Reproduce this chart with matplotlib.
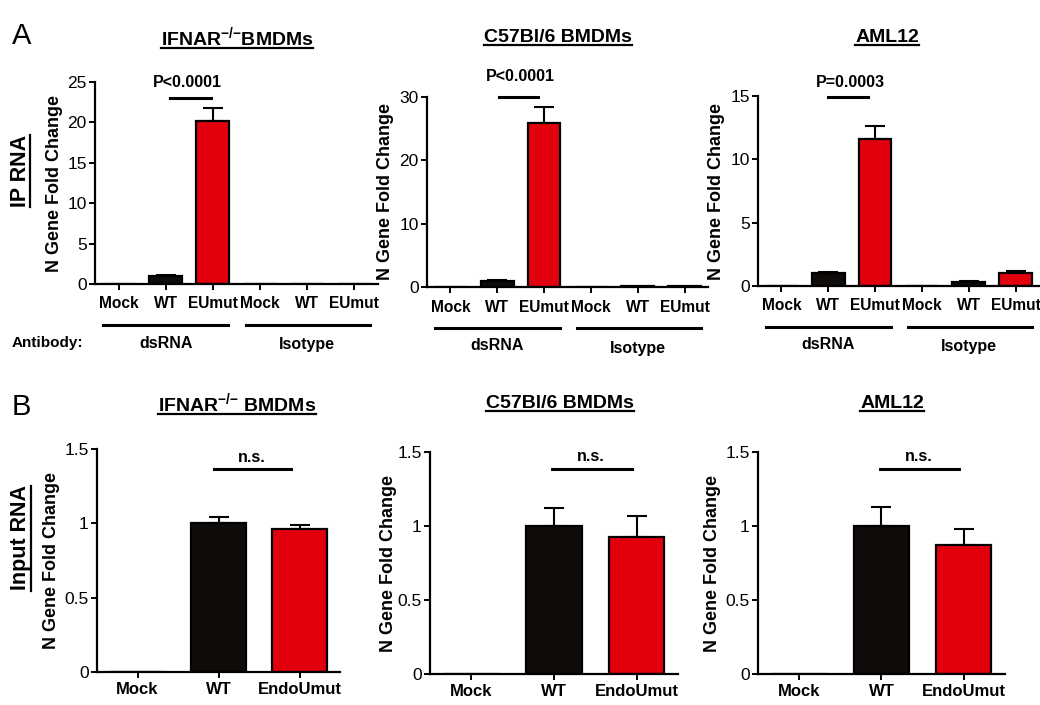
import matplotlib
matplotlib.use('Agg')
import matplotlib.pyplot as plt
from matplotlib.lines import Line2D
from matplotlib.transforms import ScaledTranslation

W, H = 1040, 705
DPI = 100
SANS = ['Liberation Sans', 'DejaVu Sans']
plt.rcParams['font.family'] = SANS
plt.rcParams['mathtext.fontset'] = 'custom'
plt.rcParams['mathtext.rm'] = 'Liberation Sans'
plt.rcParams['mathtext.bf'] = 'Liberation Sans:bold'
plt.rcParams['mathtext.it'] = 'Liberation Sans:bold'

# ---------------- data ----------------
cell_titles = [r"IFNAR$^{\mathbf{{-}/{-}}}$BMDMs", "C57Bl/6 BMDMs", "AML12"]
cell_titles_b = [r"IFNAR$^{\mathbf{{-}/{-}}}$ BMDMs", "C57Bl/6 BMDMs", "AML12"]

ip_categories = ["Mock", "WT", "EUmut", "Mock", "WT", "EUmut"]
ip_groups = ["dsRNA", "Isotype"]
ip_is_mut = [False, False, True, False, False, True]
ip_ifnar = [0, 1.0, 20.2, 0, 0, 0]
ip_ifnar_err = [0, 0.06, 1.6, 0, 0, 0]
ip_c57 = [0, 1.0, 25.95, 0, 0.12, 0.2]
ip_c57_err = [0, 0.08, 2.45, 0, 0, 0]
ip_aml = [0, 1.0, 11.6, 0, 0.33, 1.02]
ip_aml_err = [0, 0.12, 1.05, 0, 0.04, 0.15]
ip_pvalues = ["P<0.0001", "P<0.0001", "P=0.0003"]

input_categories = ["Mock", "WT", "EndoUmut"]
input_is_mut = [False, False, True]
in_ifnar = [0, 1.0, 0.96]
in_ifnar_err = [0, 0.045, 0.03]
in_c57 = [0, 1.0, 0.925]
in_c57_err = [0, 0.12, 0.14]
in_aml = [0, 1.0, 0.87]
in_aml_err = [0, 0.13, 0.11]
input_sig = ["n.s.", "n.s.", "n.s."]

ip_values = [ip_ifnar, ip_c57, ip_aml]
ip_errors = [ip_ifnar_err, ip_c57_err, ip_aml_err]
in_values = [in_ifnar, in_c57, in_aml]
in_errors = [in_ifnar_err, in_c57_err, in_aml_err]

# ---------------- layout ----------------
RED = '#E2000F'
BLACK = '#0e0b09'

top_rects = [(95, 82, 378, 284), (427, 97, 708, 287), (758, 96, 1039, 286)]
bot_rects = [(97, 449, 340, 672), (430, 452, 678, 674), (758, 452, 1005, 674)]
top_ylims = [(0, 25, 5), (0, 30, 10), (0, 15, 5)]
top_sig_line = [(1.1, 1.96, 23.0), (1.04, 1.87, 30.0), (1.0, 1.85, 14.9)]
top_sig_text = [(1.45, 24.9), (1.5, 33.2), (1.47, 16.1)]
bot_sig_line = [(0.95, 1.89, 1.365), (0.975, 1.94, 1.385), (0.98, 1.94, 1.385)]
bot_sig_text = [(1.41, 1.44), (1.45, 1.47), (1.45, 1.47)]
title_top_x = [237, 558, 887]
title_bot_x = [237, 560, 892]
ylabel_pad_top = [3, 4, 4]
ylabel_pad_bot = [3, 0, 3]

fig = plt.figure(figsize=(W / DPI, H / DPI), dpi=DPI)


def rect(l, t, r, b):
    return [l / W, 1 - b / H, (r - l) / W, (b - t) / H]


def style_axes(ax):
    for s in ['top', 'right']:
        ax.spines[s].set_visible(False)
    for s in ['left', 'bottom']:
        ax.spines[s].set_linewidth(1.6)
        ax.spines[s].set_color('black')
    ax.tick_params(axis='both', direction='out', length=4, width=1.4, color='black')
    ax.tick_params(axis='y', pad=2, labelsize=12.5)


def draw_bars(ax, values, errors, is_mut, width):
    x = list(range(len(values)))
    colors = [RED if m else BLACK for m in is_mut]
    ax.bar(x, values, width=width, color=colors, edgecolor='black', linewidth=1.6, zorder=2)
    ex = [xi for xi, e in zip(x, errors) if e > 0]
    ey = [v for v, e in zip(values, errors) if e > 0]
    ee = [e for e in errors if e > 0]
    if ex:
        ax.errorbar(ex, ey, yerr=[[0] * len(ee), ee], fmt='none', ecolor='black',
                    elinewidth=1.5, capsize=7.5, capthick=1.5, zorder=3)


def offset(ax, dy_px):
    return ax.get_xaxis_transform() + ScaledTranslation(0, -dy_px / DPI, fig.dpi_scale_trans)


top_axes = []
for i in range(3):
    ax = fig.add_axes(rect(*top_rects[i]))
    top_axes.append(ax)
    style_axes(ax)
    draw_bars(ax, ip_values[i], ip_errors[i], ip_is_mut, 0.7)
    lo, hi, st = top_ylims[i]
    ax.set_ylim(lo, hi)
    ax.set_yticks(list(range(lo, hi + 1, st)))
    ax.set_xlim(-0.5, 5.5)
    ax.set_xticks(range(len(ip_categories)))
    ax.set_xticklabels(ip_categories, fontsize=11.2, fontweight='bold')
    ax.tick_params(axis='x', pad=5)
    ax.set_ylabel("N Gene Fold Change", fontsize=13, fontweight='bold',
                  labelpad=ylabel_pad_top[i])
    x1, x2, ys = top_sig_line[i]
    ax.plot([x1, x2], [ys, ys], color='black', lw=2.2, clip_on=False)
    tx, ty = top_sig_text[i]
    ax.text(tx, ty, ip_pvalues[i], ha='center', va='center', fontsize=11.5, fontweight='bold')
    # group lines
    ax.plot([-0.33, 2.33], [0, 0], color='black', lw=2.2, clip_on=False, transform=offset(ax, 41))
    ax.plot([2.7, 5.34], [0, 0], color='black', lw=2.2, clip_on=False, transform=offset(ax, 41))
    ax.text(1, 0, ip_groups[0], ha='center', va='center', fontsize=11.5, fontweight='bold',
            transform=offset(ax, 59))
    ax.text(4, 0, ip_groups[1], ha='center', va='center', fontsize=11.5, fontweight='bold',
            transform=offset(ax, 61))

bot_axes = []
for i in range(3):
    ax = fig.add_axes(rect(*bot_rects[i]))
    bot_axes.append(ax)
    style_axes(ax)
    draw_bars(ax, in_values[i], in_errors[i], input_is_mut, 0.67)
    ax.set_ylim(0, 1.5)
    ax.set_yticks([0, 0.5, 1, 1.5])
    ax.set_yticklabels(["0", "0.5", "1", "1.5"])
    ax.set_xlim(-0.5, 2.5)
    ax.set_xticks(range(len(input_categories)))
    ax.set_xticklabels(input_categories, fontsize=12, fontweight='bold')
    ax.tick_params(axis='x', pad=3)
    ax.set_ylabel("N Gene Fold Change", fontsize=13, fontweight='bold',
                  labelpad=ylabel_pad_bot[i])
    x1, x2, ys = bot_sig_line[i]
    ax.plot([x1, x2], [ys, ys], color='black', lw=2.2, clip_on=False)
    tx, ty = bot_sig_text[i]
    ax.text(tx, ty, input_sig[i], ha='center', va='center', fontsize=11.5, fontweight='bold')


def fpx(x, y):
    return x / W, 1 - y / H


underline_items = []
for i in range(3):
    t = fig.text(*fpx(title_top_x[i], 37), cell_titles[i], ha='center', va='center',
                 fontsize=14, fontweight='bold')
    underline_items.append((t, 'h'))
    t = fig.text(*fpx(title_bot_x[i], 403), cell_titles_b[i], ha='center', va='center',
                 fontsize=14, fontweight='bold')
    underline_items.append((t, 'h'))

fig.text(*fpx(12, 36), "A", ha='left', va='center', fontsize=21)
fig.text(*fpx(12, 407), "B", ha='left', va='center', fontsize=21)
fig.text(*fpx(12, 343), "Antibody:", ha='left', va='center', fontsize=11, fontweight='bold')

t = fig.text(*fpx(20, 171), "IP RNA", ha='center', va='center', rotation=90,
             fontsize=15.5, fontweight='bold')
underline_items.append((t, 'v'))
t = fig.text(*fpx(21, 538), "Input RNA", ha='center', va='center', rotation=90,
             fontsize=15.5, fontweight='bold')
underline_items.append((t, 'v'))

fig.canvas.draw()
r = fig.canvas.get_renderer()
inv = fig.transFigure.inverted()
for t, kind in underline_items:
    bb = t.get_window_extent(renderer=r)
    if kind == 'h':
        y = bb.y0 + 1.0
        p0 = inv.transform((bb.x0, y))
        p1 = inv.transform((bb.x1, y))
    else:
        x = bb.x1 - 1.0
        p0 = inv.transform((x, bb.y0))
        p1 = inv.transform((x, bb.y1))
    fig.add_artist(Line2D([p0[0], p1[0]], [p0[1], p1[1]], color='black', lw=1.6,
                          transform=fig.transFigure))

fig.savefig('out.png', dpi=DPI)
